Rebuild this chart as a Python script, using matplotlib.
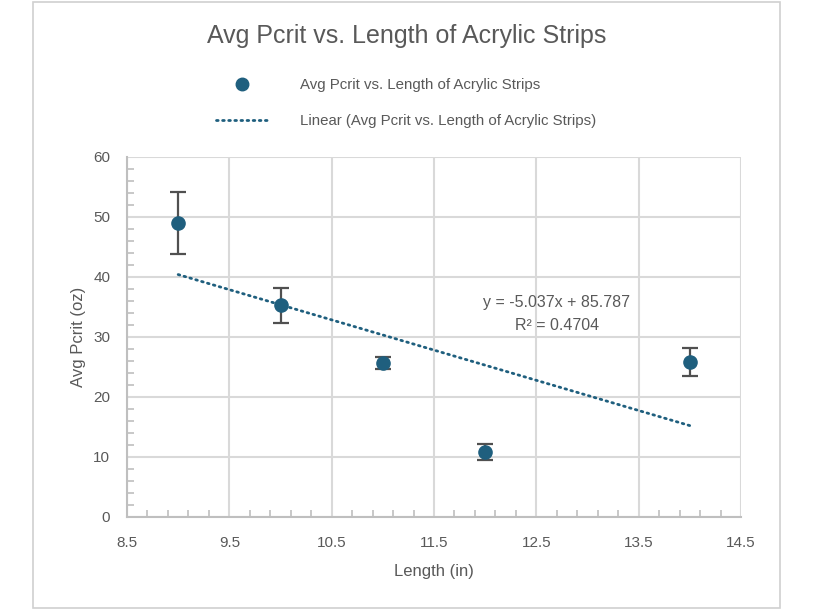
import numpy as np
import matplotlib
matplotlib.use("Agg")
import matplotlib.pyplot as plt
from matplotlib.patches import Rectangle

# ---- data ----
lengths = [9, 10, 11, 12, 14]
avg_pcrit = [49.05, 35.3, 25.7, 10.8, 25.8]
err = [5.2, 2.9, 1.0, 1.3, 2.3]
series_label = "Avg Pcrit vs. Length of Acrylic Strips"
trend_label = "Linear (Avg Pcrit vs. Length of Acrylic Strips)"
eq_text = "y = -5.037x + 85.787"
r2_text = "R² = 0.4704"
title = "Avg Pcrit vs. Length of Acrylic Strips"
xlabel = "Length (in)"
ylabel = "Avg Pcrit (oz)"
xticks = [8.5, 9.5, 10.5, 11.5, 12.5, 13.5, 14.5]
yticks = [0, 10, 20, 30, 40, 50, 60]

FONT = ["Liberation Sans", "DejaVu Sans"]
plt.rcParams["font.family"] = FONT
TXT = "#595959"
BLUE = "#1F5F7E"
GRID = "#D9D9D9"

W, H = 813, 610
fig = plt.figure(figsize=(W / 100, H / 100), dpi=100)
fig.patch.set_facecolor("white")

# chart border
fig.patches.append(Rectangle((33 / W, 1 - 608 / H), (780 - 33) / W, (608 - 1.5) / H,
                             transform=fig.transFigure, fill=False,
                             edgecolor="#D0D0D0", linewidth=1.2))

ax = fig.add_axes([127 / W, 1 - 517 / H, (741 - 127) / W, (517 - 157) / H])
ax.set_xlim(8.5, 14.5)
ax.set_ylim(0, 60)
ax.set_xticks(xticks)
ax.set_xticklabels([f"{t}" for t in xticks])
ax.set_yticks(yticks)
ax.set_xticks(np.arange(8.5, 14.51, 0.2), minor=True)
ax.set_yticks(np.arange(0, 60.1, 2), minor=True)
ax.grid(True, which="major", color=GRID, linewidth=1.5)
ax.set_axisbelow(True)
for s in ["top", "right"]:
    ax.spines[s].set_visible(False)
for s in ["left", "bottom"]:
    ax.spines[s].set_color("#BFBFBF")
    ax.spines[s].set_linewidth(1.5)
ax.tick_params(which="major", length=0, labelsize=11, labelcolor=TXT, pad=12)
ax.tick_params(which="minor", direction="in", length=5, color="#BFBFBF", width=1.2)
ax.tick_params(axis="x", which="major", pad=14)

# trendline
slope, intercept = np.polyfit(lengths, avg_pcrit, 1)
xt = np.array([min(lengths), max(lengths)])
trend, = ax.plot(xt, slope * xt + intercept, color=BLUE, linewidth=2.0,
                 linestyle=(0, (0.6, 1.6)), dash_capstyle="round", zorder=3)

# data + error bars
eb = ax.errorbar(lengths, avg_pcrit, yerr=err, fmt="o", color=BLUE, markersize=9.5,
                 ecolor="#505050", elinewidth=1.6, capsize=6, capthick=1.6, zorder=4)
pts, = ax.plot([], [], "o", color=BLUE, markersize=9)

ax.text(12.7, 35.7, eq_text, ha="center", va="center", fontsize=11.5, color=TXT)
ax.text(12.7, 32.0, r2_text, ha="center", va="center", fontsize=11.5, color=TXT)

ax.set_xlabel(xlabel, fontsize=12, color=TXT, labelpad=10)
ax.set_ylabel(ylabel, fontsize=12, color=TXT, labelpad=5)

fig.text(407 / W, 1 - 36 / H, title, ha="center", va="center", fontsize=18, color=TXT)

leg = fig.legend([pts, trend], [series_label, trend_label], loc="upper left",
                 bbox_to_anchor=(216 / W, 1 - 78 / H), frameon=False,
                 fontsize=10.8, labelcolor=TXT, handlelength=3.5,
                 handletextpad=2.1, labelspacing=1.5, borderpad=0,
                 borderaxespad=0)

fig.savefig("out.png", dpi=100)
